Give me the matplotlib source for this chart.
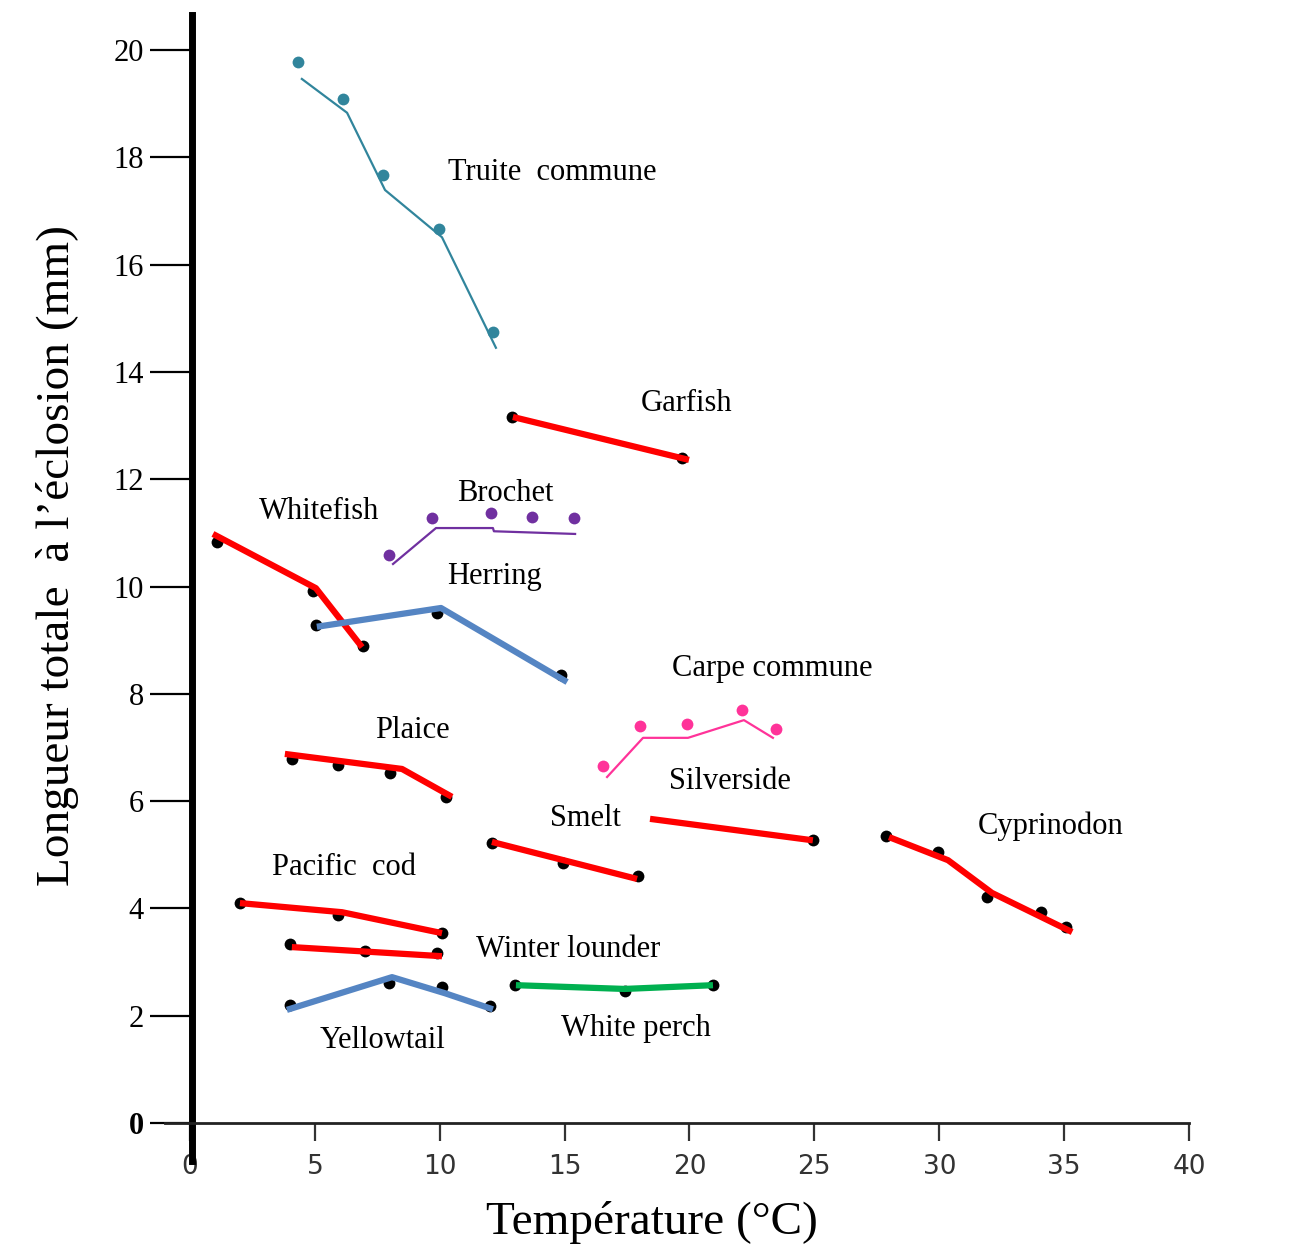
import matplotlib.pyplot as plt

# Values (temperature in degC, length in mm).
# Fitted lines and measured dots are kept apart where they differ.

truite_t = [4.32, 6.13, 7.73, 9.97, 12.13]
truite_l = [19.78, 19.09, 17.67, 16.66, 14.75]
truite_fit_t = [4.48, 6.29, 7.81, 10.09, 12.25]
truite_fit_l = [19.46, 18.83, 17.39, 16.51, 14.45]

brochet_t = [7.97, 9.69, 12.05, 13.69, 15.38]
brochet_l = [10.59, 11.28, 11.37, 11.30, 11.28]
brochet_fit_t = [8.13, 9.85, 12.13, 12.17, 15.42]
brochet_fit_l = [10.42, 11.09, 11.09, 11.03, 10.98]

carpe_t = [16.54, 18.02, 19.90, 22.10, 23.46]
carpe_l = [6.65, 7.40, 7.44, 7.70, 7.34]
carpe_fit_t = [16.70, 18.14, 19.94, 22.18, 23.34]
carpe_fit_l = [6.45, 7.18, 7.18, 7.51, 7.18]

garfish_t = [12.89, 19.70]
garfish_l = [13.16, 12.40]
garfish_fit_t = [12.93, 19.98]
garfish_fit_l = [13.16, 12.36]

whitefish_t = [1.08, 4.92, 6.93]
whitefish_l = [10.83, 9.92, 8.89]
whitefish_fit_t = [0.92, 5.04, 6.89]
whitefish_fit_l = [10.98, 9.97, 8.87]

herring_t = [5.04, 9.89, 14.86]
herring_l = [9.28, 9.51, 8.35]
herring_fit_t = [5.08, 10.05, 15.10]
herring_fit_l = [9.25, 9.60, 8.22]

plaice_t = [4.08, 5.93, 8.01, 10.25]
plaice_l = [6.78, 6.67, 6.52, 6.08]
plaice_fit_t = [3.80, 8.49, 10.49]
plaice_fit_l = [6.88, 6.60, 6.08]

silverside_t = [24.94]
silverside_l = [5.27]
silverside_fit_t = [18.42, 24.94]
silverside_fit_l = [5.67, 5.27]

smelt_t = [12.09, 14.93, 17.94]
smelt_l = [5.22, 4.85, 4.60]
smelt_fit_t = [12.09, 17.90]
smelt_fit_l = [5.24, 4.55]

cyprinodon_t = [27.87, 29.95, 31.91, 34.07, 35.07]
cyprinodon_l = [5.35, 5.05, 4.21, 3.93, 3.65]
cyprinodon_fit_t = [27.99, 30.35, 32.11, 35.32]
cyprinodon_fit_l = [5.33, 4.90, 4.29, 3.56]

cod_t = [2.00, 5.93, 10.09]
cod_l = [4.10, 3.88, 3.54]
cod_fit_t = [2.00, 6.09, 10.09]
cod_fit_l = [4.10, 3.93, 3.54]

lounder_t = [4.00, 7.01, 9.89]
lounder_l = [3.34, 3.21, 3.17]
lounder_fit_t = [4.08, 10.09]
lounder_fit_l = [3.28, 3.11]

yellowtail_t = [4.00, 7.97, 10.09, 12.01]
yellowtail_l = [2.20, 2.61, 2.53, 2.18]
yellowtail_fit_t = [3.88, 8.09, 10.21, 12.13]
yellowtail_fit_l = [2.11, 2.72, 2.42, 2.12]

perch_t = [13.01, 17.42, 20.94]
perch_l = [2.57, 2.46, 2.57]
perch_fit_t = [13.05, 17.40, 20.94]
perch_fit_l = [2.57, 2.50, 2.57]

x_ticks = [0, 5, 10, 15, 20, 25, 30, 35, 40]
y_ticks = [0, 2, 4, 6, 8, 10, 12, 14, 16, 18, 20]

serif = "Liberation Serif"

fig = plt.figure(figsize=(13.09, 12.48), dpi=100)
ax = fig.add_axes([0.0688, 0.0700, 0.8777, 0.9179])
ax.set_xlim(-4, 42)
ax.set_ylim(-0.7, 20.65)

# Coloured dots with a thin line (drawn separately, slightly offset).
thin = [
    (truite_t, truite_l, truite_fit_t, truite_fit_l, "#31859c"),
    (brochet_t, brochet_l, brochet_fit_t, brochet_fit_l, "#7030a0"),
    (carpe_t, carpe_l, carpe_fit_t, carpe_fit_l, "#ff3399"),
]
for t, l, ft, fl, c in thin:
    ax.plot(ft, fl, color=c, linewidth=1.6, zorder=3)
    ax.plot(t, l, "o", color=c, markersize=8.5, markeredgewidth=0, zorder=3)

# Black dots under a thick coloured line.
thick = [
    (garfish_t, garfish_l, garfish_fit_t, garfish_fit_l, "#ff0000"),
    (whitefish_t, whitefish_l, whitefish_fit_t, whitefish_fit_l, "#ff0000"),
    (herring_t, herring_l, herring_fit_t, herring_fit_l, "#5585c3"),
    (plaice_t, plaice_l, plaice_fit_t, plaice_fit_l, "#ff0000"),
    (silverside_t, silverside_l, silverside_fit_t, silverside_fit_l, "#ff0000"),
    (smelt_t, smelt_l, smelt_fit_t, smelt_fit_l, "#ff0000"),
    (cyprinodon_t, cyprinodon_l, cyprinodon_fit_t, cyprinodon_fit_l, "#ff0000"),
    (cod_t, cod_l, cod_fit_t, cod_fit_l, "#ff0000"),
    (lounder_t, lounder_l, lounder_fit_t, lounder_fit_l, "#ff0000"),
    (yellowtail_t, yellowtail_l, yellowtail_fit_t, yellowtail_fit_l, "#5585c3"),
    (perch_t, perch_l, perch_fit_t, perch_fit_l, "#00b050"),
]
for t, l, ft, fl, c in thick:
    ax.plot(t, l, "o", color="black", markersize=8.5, markeredgewidth=0, zorder=2)
    ax.plot(ft, fl, color=c, linewidth=4.5, solid_capstyle="butt", zorder=3)

# Species names.
labels = [
    ("Truite  commune", 14.49, 17.71),
    ("Garfish", 19.90, 13.42),
    ("Whitefish", 5.16, 11.39),
    ("Brochet", 12.61, 11.74),
    ("Herring", 12.21, 10.18),
    ("Carpe commune", 23.30, 8.48),
    ("Plaice", 8.89, 7.32),
    ("Silverside", 21.62, 6.36),
    ("Smelt", 15.82, 5.68),
    ("Cyprinodon", 34.47, 5.54),
    ("Pacific  cod", 6.17, 4.77),
    ("Winter lounder", 15.14, 3.23),
    ("Yellowtail", 7.69, 1.53),
    ("White perch", 17.86, 1.77),
]
for name, x, y in labels:
    ax.text(x, y, name, family=serif, fontsize=22, ha="center", va="center")

# Axes: thick vertical axis, thin horizontal one.
ax.spines["top"].set_visible(False)
ax.spines["right"].set_visible(False)
ax.spines["left"].set_position(("data", 0.1))
ax.spines["left"].set_linewidth(5)
ax.spines["bottom"].set_position(("data", 0))
ax.spines["bottom"].set_bounds(-1, 40)
ax.spines["bottom"].set_linewidth(2)
ax.spines["bottom"].set_color("#222222")

ax.set_yticks(y_ticks)
ax.set_yticklabels([str(v) for v in y_ticks], family=serif, fontsize=22)
ax.tick_params(axis="y", length=30, width=1.6, pad=5)
ax.get_yticklabels()[0].set_fontweight("bold")

ax.set_xticks(x_ticks)
ax.set_xticklabels([str(v) for v in x_ticks], fontsize=19, color="#333333")
ax.tick_params(axis="x", length=13, width=1.6, pad=9, color="#333333")

fig.text(652 / 1309, 1 - 1222 / 1248, "Température (°C)", family=serif,
         fontsize=34, ha="center", va="center")
fig.text(58 / 1309, 1 - 555 / 1248, "Longueur totale  à l’éclosion (mm)",
         family=serif, fontsize=34, rotation=90, ha="center", va="center")

fig.savefig("out.png", dpi=100)
